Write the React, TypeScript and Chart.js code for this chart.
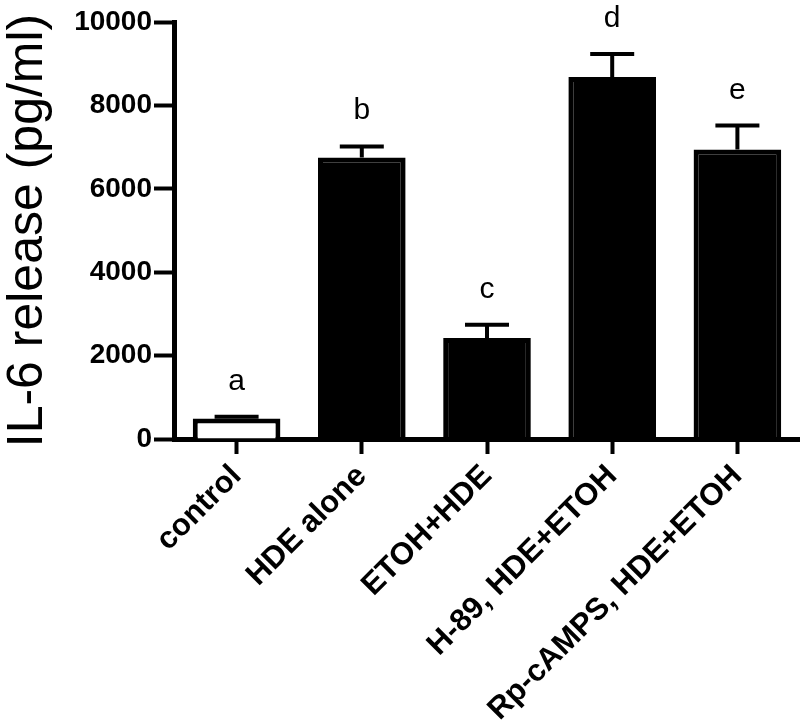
import React, { useEffect, useRef } from "react";
import { Chart, registerables } from "chart.js";

Chart.register(...registerables);

const categories = ["control", "HDE alone", "ETOH+HDE", "H-89, HDE+ETOH", "Rp-cAMPS, HDE+ETOH"];
const means = [490, 6750, 2420, 8680, 6940];
const errors = [45, 265, 320, 550, 575];
const letters = ["a", "b", "c", "d", "e"];
const barFills = ["#ffffff", "#000000", "#000000", "#000000", "#000000"];
const yMin = 0;
const yMax = 10000;
const yStep = 2000;
const yTitle = "IL-6 release (pg/ml)";

const FONT = '"Liberation Sans", Arial, Helvetica, sans-serif';

const errorBarPlugin = {
  id: "errorBarsLetters",
  afterDatasetsDraw(chart: any) {
    const ctx = chart.ctx;
    const meta = chart.getDatasetMeta(0);
    const yScale = chart.scales.y;
    ctx.save();
    meta.data.forEach((bar: any, i: number) => {
      const x = bar.x;
      const yTop = yScale.getPixelForValue(means[i]);
      const yErr = yScale.getPixelForValue(means[i] + errors[i]);
      ctx.strokeStyle = "#000";
      ctx.lineWidth = 4;
      ctx.lineCap = "butt";
      ctx.beginPath();
      ctx.moveTo(x, yTop);
      ctx.lineTo(x, yErr);
      ctx.moveTo(x - 22, yErr);
      ctx.lineTo(x + 22, yErr);
      ctx.stroke();
      ctx.fillStyle = "#000";
      ctx.font = `30px ${FONT}`;
      ctx.textAlign = "center";
      ctx.textBaseline = "alphabetic";
      ctx.fillText(letters[i], x, yErr - 27);
    });
    ctx.restore();
  },
};

export default function App() {
  const ref = useRef<HTMLCanvasElement | null>(null);
  useEffect(() => {
    if (!ref.current) return;
    const chart = new Chart(ref.current, {
      type: "bar",
      data: {
        labels: categories,
        datasets: [
          {
            data: means,
            backgroundColor: barFills,
            borderColor: "#000",
            borderWidth: 5,
            barPercentage: 0.7,
            categoryPercentage: 1,
          },
        ],
      },
      options: {
        responsive: false,
        animation: false,
        layout: { padding: { top: 22, left: 0, right: 0, bottom: 0 } },
        plugins: { legend: { display: false }, tooltip: { enabled: false } },
        scales: {
          x: {
            grid: {
              offset: false,
              drawOnChartArea: false,
              tickLength: 15,
              tickWidth: 4,
              tickColor: "#000",
            },
            border: { display: true, width: 5, color: "#000" },
            ticks: {
              color: "#000",
              font: { family: FONT, size: 31, weight: "bold" },
              maxRotation: 45,
              minRotation: 45,
              padding: 4,
              autoSkip: false,
            },
            afterFit: (s: any) => {
              s.height = 286;
            },
          },
          y: {
            min: yMin,
            max: yMax,
            grid: {
              drawOnChartArea: false,
              tickLength: 20,
              tickWidth: 4,
              tickColor: "#000",
            },
            border: { display: true, width: 5, color: "#000" },
            ticks: {
              stepSize: yStep,
              color: "#000",
              font: { family: FONT, size: 28, weight: "bold" },
              padding: 2,
              callback: (v: any) => String(v),
            },
            title: {
              display: true,
              text: yTitle,
              color: "#000",
              font: { family: FONT, size: 50, weight: "normal", lineHeight: 1 },
              padding: { top: 3, bottom: 0 },
            },
            afterFit: (s: any) => {
              s.width = 174;
            },
          },
        },
      },
      plugins: [errorBarPlugin],
    });
    return () => chart.destroy();
  }, []);
  return (
    <div style={{ position: "absolute", left: 0, top: 0, width: 800, height: 725, background: "#fff" }}>
      <canvas ref={ref} width={800} height={725} style={{ display: "block" }} />
    </div>
  );
}
